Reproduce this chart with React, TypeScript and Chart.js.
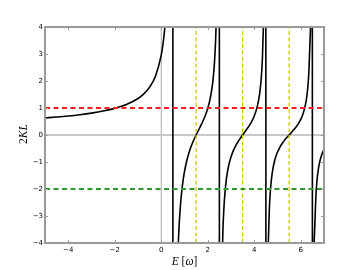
import { useEffect, useRef } from "react";
import { Chart, registerables } from "chart.js";

Chart.register(...registerables);

// Energy samples E [ω] and the read 2KL values
const curveE = [
  -5, -4.5, -4, -3.5, -3, -2.5, -2, -1.5, -1, -0.75, -0.5, -0.25, 0, 0.05, 0.1, 0.15, 0.2, 0.25, 0.3, 0.4, 0.45, 0.49,
  0.51, 0.55, 0.6, 0.65, 0.7, 0.75, 0.8, 0.85, 0.9, 0.95, 1.0, 1.1, 1.2, 1.3, 1.4, 1.5, 1.6, 1.7, 1.8, 1.9, 2.0, 2.1, 2.2, 2.25, 2.3, 2.35, 2.4, 2.45, 2.49,
  2.51, 2.55, 2.6, 2.65, 2.7, 2.75, 2.8, 2.85, 2.9, 2.95, 3.0, 3.1, 3.2, 3.3, 3.4, 3.5, 3.6, 3.7, 3.8, 3.9, 4.0, 4.1, 4.2, 4.25, 4.3, 4.35, 4.4, 4.45, 4.49,
  4.51, 4.55, 4.6, 4.65, 4.7, 4.75, 4.8, 4.85, 4.9, 5.0, 5.1, 5.2, 5.3, 5.4, 5.5, 5.6, 5.7, 5.8, 5.9, 6.0, 6.1, 6.2, 6.25, 6.3, 6.35, 6.4, 6.45, 6.49,
  6.51, 6.55, 6.6, 6.65, 6.7, 6.75, 6.8, 6.85, 6.9, 7.0,
];
const curveKL = [
  0.631, 0.665, 0.704, 0.752, 0.811, 0.886, 0.986, 1.128, 1.352, 1.523, 1.772, 2.175, 2.959, 3.217, 3.537, 3.947, 4.492, 5.25, 6.389, 12.05, 23.3, 113.6,
  -112, -21.77, -10.48, -6.71, -4.817, -3.678, -2.913, -2.362, -1.946, -1.618, -1.352, -0.943, -0.636, -0.391, -0.185, 0, 0.174, 0.346, 0.528, 0.734, 0.986, 1.326, 1.85, 2.251, 2.839, 3.803, 5.706, 11.37, 56.5,
  -56.3, -11.15, -5.49, -3.589, -2.627, -2.043, -1.646, -1.357, -1.135, -0.958, -0.811, -0.58, -0.4, -0.251, -0.121, 0, 0.118, 0.238, 0.368, 0.518, 0.704, 0.958, 1.35, 1.651, 2.092, 2.815, 4.243, 8.49, 42.3,
  -42.3, -8.4, -4.151, -2.724, -2.002, -1.562, -1.263, -1.045, -0.877, -0.631, -0.454, -0.315, -0.199, -0.096, 0, 0.095, 0.192, 0.299, 0.422, 0.576, 0.787, 1.113, 1.364, 1.731, 2.334, 3.524, 7.06, 35.2,
  -35.2, -7.01, -3.471, -2.281, -1.679, -1.312, -1.063, -0.88, -0.74, -0.534,
];

const upperLevel = 1;
const lowerLevel = -2;
const oddLevels = [1.5, 3.5, 5.5];
const xRange = [-5, 7];
const yRange = [-4, 4];
const xTicks = [-4, -2, 0, 2, 4, 6];
const yTicks = [-4, -3, -2, -1, 0, 1, 2, 3, 4];

const fmt = (v: number) => (v < 0 ? "\u2212" + Math.abs(v) : String(v));

const framePlugin = {
  id: "frame",
  afterDatasetsDraw(chart: any) {
    const { ctx, chartArea } = chart;
    const { left, right, top, bottom } = chartArea;
    const xs = chart.scales.x;
    const ys = chart.scales.y;
    ctx.save();
    ctx.strokeStyle = "#9a9a9a";
    ctx.lineWidth = 1;
    const tl = 3;
    ctx.beginPath();
    xTicks.forEach((v) => {
      const px = Math.round(xs.getPixelForValue(v)) + 0.5;
      ctx.moveTo(px, bottom);
      ctx.lineTo(px, bottom - tl);
      ctx.moveTo(px, top);
      ctx.lineTo(px, top + tl);
    });
    yTicks.forEach((v) => {
      const py = Math.round(ys.getPixelForValue(v)) + 0.5;
      ctx.moveTo(left, py);
      ctx.lineTo(left + tl, py);
      ctx.moveTo(right, py);
      ctx.lineTo(right - tl, py);
    });
    ctx.stroke();
    ctx.lineWidth = 2;
    ctx.strokeRect(left, top, right - left, bottom - top);

    // axis titles
    ctx.fillStyle = "#000";
    const serif = '"Liberation Serif", "DejaVu Serif", serif';
    const parts = [
      { t: "E", f: `italic 11.5px ${serif}` },
      { t: " [", f: `11.5px ${serif}` },
      { t: "\u03c9", f: `italic 11.5px ${serif}` },
      { t: "]", f: `11.5px ${serif}` },
    ];
    let w = 0;
    parts.forEach((p) => {
      ctx.font = p.f;
      w += ctx.measureText(p.t).width;
    });
    let x = (left + right) / 2 - w / 2;
    ctx.textBaseline = "alphabetic";
    ctx.textAlign = "left";
    parts.forEach((p) => {
      ctx.font = p.f;
      ctx.fillText(p.t, x, 264.5);
      x += ctx.measureText(p.t).width;
    });

    const yparts = [
      { t: "2", f: `11.5px ${serif}` },
      { t: "KL", f: `italic 11.5px ${serif}` },
    ];
    let yw = 0;
    yparts.forEach((p) => {
      ctx.font = p.f;
      yw += ctx.measureText(p.t).width;
    });
    ctx.translate(27, (top + bottom) / 2 - 1);
    ctx.rotate(-Math.PI / 2);
    let yx = -yw / 2;
    yparts.forEach((p) => {
      ctx.font = p.f;
      ctx.fillText(p.t, yx, 0);
      yx += ctx.measureText(p.t).width;
    });
    ctx.restore();
  },
};

export default function App() {
  const ref = useRef<HTMLCanvasElement | null>(null);
  useEffect(() => {
    if (!ref.current) return;
    const curve = curveE.map((e, i) => ({ x: e, y: curveKL[i] }));
    const vLines = oddLevels.map((e) => ({
      data: [
        { x: e, y: yRange[0] },
        { x: e, y: yRange[1] },
      ],
      borderColor: "#c8c800",
      borderWidth: 1.2,
      borderDash: [4, 2.5],
      pointRadius: 0,
      order: 3,
    }));
    const chart = new Chart(ref.current, {
      type: "line",
      data: {
        datasets: [
          {
            data: [
              { x: xRange[0], y: 0 },
              { x: xRange[1], y: 0 },
            ],
            borderColor: "#c8c8c8",
            borderWidth: 2,
            pointRadius: 0,
            order: 10,
          },
          {
            data: [
              { x: 0, y: yRange[0] },
              { x: 0, y: yRange[1] },
            ],
            borderColor: "#aaaaaa",
            borderWidth: 1,
            pointRadius: 0,
            order: 10,
          },
          {
            data: curve,
            borderColor: "#000000",
            borderWidth: 1.6,
            pointRadius: 0,
            cubicInterpolationMode: "monotone",
            order: 5,
          },
          ...vLines,
          {
            data: [
              { x: xRange[0], y: upperLevel },
              { x: xRange[1], y: upperLevel },
            ],
            borderColor: "#ff2020",
            borderWidth: 2,
            borderDash: [5, 3.5],
            pointRadius: 0,
            order: 1,
          },
          {
            data: [
              { x: xRange[0], y: lowerLevel },
              { x: xRange[1], y: lowerLevel },
            ],
            borderColor: "#2c9a2c",
            borderWidth: 2,
            borderDash: [5, 3.5],
            pointRadius: 0,
            order: 1,
          },
        ] as any,
      },
      plugins: [framePlugin],
      options: {
        animation: false,
        responsive: false,
        devicePixelRatio: 1,
        layout: { padding: { left: 0, top: 27, right: 36, bottom: 0 } },
        plugins: { legend: { display: false }, tooltip: { enabled: false } },
        elements: { line: { tension: 0 } },
        scales: {
          x: {
            type: "linear",
            min: xRange[0],
            max: xRange[1],
            afterFit: (s: any) => {
              s.height = 27;
            },
            afterBuildTicks: (s: any) => {
              s.ticks = xTicks.map((v) => ({ value: v }));
            },
            grid: { display: false, drawTicks: false },
            border: { display: false },
            ticks: {
              padding: 3,
              color: "#000",
              font: { family: '"DejaVu Sans"', size: 7 },
              maxRotation: 0,
              callback: (v: any) => fmt(Number(v)),
            },
          },
          y: {
            type: "linear",
            min: yRange[0],
            max: yRange[1],
            afterFit: (s: any) => {
              s.width = 45;
            },
            afterBuildTicks: (s: any) => {
              s.ticks = yTicks.map((v) => ({ value: v }));
            },
            grid: { display: false, drawTicks: false },
            border: { display: false },
            ticks: {
              padding: 2,
              color: "#000",
              font: { family: '"DejaVu Sans"', size: 7 },
              callback: (v: any) => fmt(Number(v)),
            },
          },
        },
      },
    });
    return () => chart.destroy();
  }, []);
  return (
    <div style={{ position: "absolute", left: 0, top: 0, width: 360, height: 270, background: "#fff" }}>
      <canvas ref={ref} width={360} height={270} style={{ width: 360, height: 270 }} />
    </div>
  );
}
